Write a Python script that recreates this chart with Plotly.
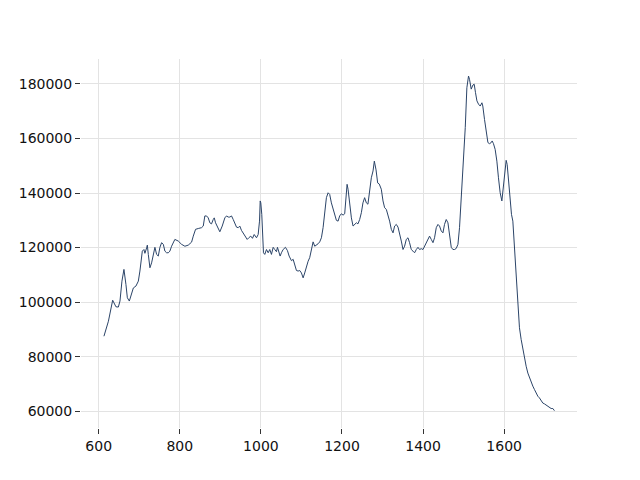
import plotly.graph_objects as go

wavenumber = [613, 624, 634.5, 637.7, 642.6, 648.5, 652.5, 657.4, 662.3, 667.2, 670.7, 675.6, 681.3, 685.5,
              691.9, 697.8, 701.7, 707.6, 711.6, 714.0, 718.2, 720.0, 722.4, 726.4, 730.5, 734.7, 738.7,
              742.9, 747.0, 751.0, 755.2, 759.4, 763.3, 767.5, 771.7, 775.6, 779.8, 787.9, 796.3, 804.4,
              812.6, 820.9, 829.1, 833.3, 838.9, 845.6, 853.7, 857.9, 861.8, 866.0, 870.2, 874.1, 878.3,
              882.5, 885.0, 888.2, 893.1, 898.8, 904.7, 911.1, 915.3, 919.5, 923.4, 927.6, 931.8, 935.7,
              939.9, 944.1, 948.0, 952.2, 956.4, 960.3, 966.3, 970.2, 975.1, 979.3, 983.5, 989.2, 993.3,
              996.6, 998.3, 999.8, 1002.2, 1004.7, 1006.4, 1009.6, 1013.8, 1018.0, 1021.9, 1026.1, 1030.3,
              1034.2, 1038.4, 1040.9, 1044.1, 1047.5, 1050.7, 1054.9, 1060.6, 1065.5, 1069.7, 1075.4,
              1079.6, 1083.5, 1087.7, 1091.9, 1095.8, 1100.0, 1104.2, 1108.1, 1112.3, 1116.5, 1120.4,
              1124.6, 1128.8, 1132.8, 1136.9, 1141.1, 1145.1, 1149.3, 1153.4, 1157.4, 1161.6, 1165.8,
              1169.7, 1173.9, 1178.1, 1182.0, 1186.2, 1190.4, 1194.3, 1198.5, 1202.7, 1206.7, 1210.8,
              1212.6, 1215.0, 1219.0, 1223.2, 1227.3, 1231.3, 1235.5, 1239.4, 1243.6, 1247.8, 1251.7,
              1255.9, 1260.1, 1264.0, 1268.2, 1272.4, 1276.6, 1279.8, 1284.0, 1288.0, 1292.0, 1297.0,
              1301.2, 1305.2, 1309.4, 1313.5, 1317.5, 1321.7, 1325.9, 1329.8, 1334.0, 1338.2, 1342.1,
              1346.3, 1350.5, 1354.4, 1358.6, 1362.8, 1366.7, 1370.9, 1375.1, 1379.1, 1383.3, 1387.4,
              1391.4, 1395.6, 1399.8, 1403.7, 1407.9, 1412.1, 1416.0, 1420.2, 1424.4, 1428.3, 1432.5,
              1436.7, 1440.6, 1444.8, 1449.0, 1452.9, 1457.1, 1461.3, 1465.3, 1469.5, 1473.6, 1477.6,
              1481.8, 1486.0, 1489.9, 1494.1, 1498.3, 1502.2, 1504.0, 1508.0, 1512.1, 1514.5, 1518.7,
              1522.9, 1526.1, 1529.3, 1532.8, 1536.7, 1540.9, 1545.1, 1547.3, 1551.5, 1555.7, 1559.9,
              1563.8, 1568.0, 1570.4, 1573.6, 1577.8, 1582.0, 1585.9, 1590.1, 1594.3, 1598.3, 1602.5,
              1604.9, 1607.4, 1611.6, 1614.8, 1618.0, 1621.4, 1625.4, 1629.6, 1633.7, 1637.7, 1641.9,
              1646.1, 1650.0, 1654.2, 1658.4, 1662.3, 1666.5, 1670.7, 1674.6, 1678.8, 1683.0, 1686.9,
              1691.1, 1695.3, 1699.3, 1703.4, 1707.6, 1711.5, 1715.8, 1720.0, 1723.9]

intensity = [87500, 93000, 100700, 99700, 98300, 98200, 100400, 107700, 112000, 106500, 101600, 100400,
             103400, 105200, 105900, 107700, 111400, 118700, 119300, 117900, 119900, 120900, 117500,
             112600, 114400, 116900, 120100, 117500, 116900, 120100, 121800, 121200, 118700, 118100,
             118100, 118700, 120500, 123000, 122400, 121200, 120500, 120900, 122000, 124200, 126700,
             127000, 127300, 127900, 131600, 131600, 130900, 129100, 128700, 130300, 130900, 129100,
             127300, 125800, 127900, 130900, 131600, 131200, 131200, 131600, 130300, 129100, 127500,
             127300, 127900, 126300, 125400, 124200, 123000, 123600, 124200, 123400, 124800, 123600,
             124800, 129700, 137100, 136400, 132200, 122400, 118100, 117500, 119300, 118100, 119300,
             117500, 120100, 119300, 118500, 120100, 118700, 116900, 118100, 119300, 120100, 118900,
             116900, 115200, 115700, 113200, 111600, 111400, 111600, 110700, 108900, 110700, 113200,
             115000, 116300, 118700, 122100, 120500, 120900, 121400, 122100, 123600, 127300, 133400,
             138300, 140100, 139500, 136400, 134000, 132200, 130000, 129700, 131600, 132400, 131900,
             132400, 140100, 143200, 141400, 135900, 130900, 127900, 128500, 129100, 128700, 130300,
             132800, 136400, 138300, 136400, 135900, 140700, 145600, 148100, 151700, 148500, 143700,
             143300, 141400, 137100, 134600, 134000, 132200, 129700, 126700, 125400, 127900, 128500,
             127500, 125400, 122400, 119300, 120500, 123000, 123600, 121800, 119300, 118700, 118100,
             119300, 120100, 119300, 119600, 119300, 120500, 121800, 123000, 124200, 123000, 121800,
             123600, 127300, 128500, 127900, 126100, 125400, 128500, 130300, 129100, 123600, 120100,
             119300, 119300, 119700, 121200, 127300, 137100, 148100, 160300, 164000, 178600, 182900,
             181700, 178100, 179600, 179900, 176800, 173800, 172600, 171900, 173100, 171900, 167000,
             162100, 158500, 158100, 158500, 159100, 158100, 156000, 151700, 145600, 140100, 137100,
             143200, 150500, 152000, 150500, 143200, 134600, 132200, 129700, 119900, 108900, 96700,
             90600, 86300, 82600, 79600, 76500, 74000, 72200, 71000, 69200, 68000, 66700, 65500, 64900,
             63700, 63000, 62700, 62200, 61800, 61500, 61000, 61000, 60200]

x_ticks = [600, 800, 1000, 1200, 1400, 1600]
y_ticks = [60000, 80000, 100000, 120000, 140000, 160000, 180000]

fig = go.Figure()
fig.add_trace(go.Scatter(x=wavenumber, y=intensity, mode="lines",
                         line=dict(color="#2b4468", width=1)))

axis_common = dict(showgrid=True, gridcolor="#e3e3e3", gridwidth=1, zeroline=False,
                   showline=False, ticks="outside", ticklen=5, tickwidth=1, tickcolor="#333333",
                   tickfont=dict(family="DejaVu Sans", size=14, color="#111111"))

fig.update_layout(
    width=640, height=480,
    margin=dict(l=73, r=71, t=51, b=60),
    paper_bgcolor="white", plot_bgcolor="white",
    showlegend=False,
    xaxis=dict(range=[556.4, 1779.6], tickvals=x_ticks, ticktext=[str(v) for v in x_ticks], **axis_common),
    yaxis=dict(range=[53850, 189150], tickvals=y_ticks, ticktext=[str(v) for v in y_ticks], **axis_common),
)

fig.write_html("out.html")
